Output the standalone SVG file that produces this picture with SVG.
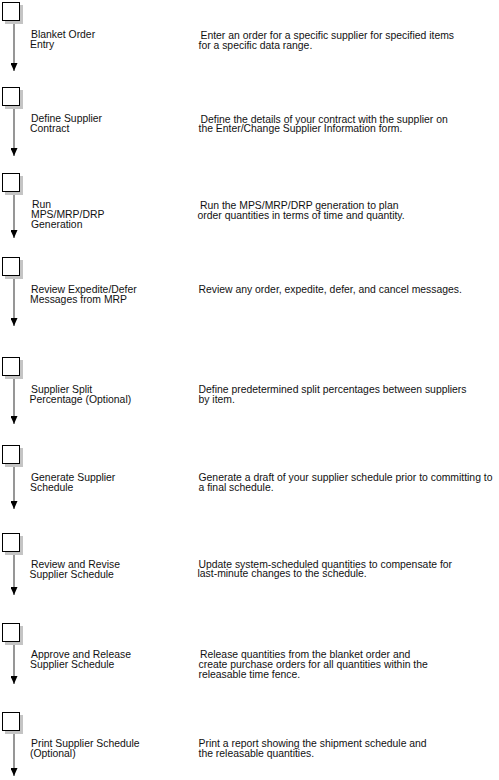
<svg xmlns="http://www.w3.org/2000/svg" width="499" height="780" viewBox="0 0 499 780">
<style>
.bg{fill:#ffffff}
.shadow{fill:#c4c4c4;stroke:none}
.box{fill:#ffffff;stroke:#000000;stroke-width:1}
.conn{stroke:#5f5f5f;stroke-width:1.3;fill:none}
text{font-family:"Liberation Sans",Arial,sans-serif;font-size:10.4px;fill:#111111}
</style>
<defs>
<marker id="arr" markerUnits="userSpaceOnUse" markerWidth="8" markerHeight="7" viewBox="0 0 8 7" refX="8" refY="3.5" orient="auto">
<path d="M0,0 L8,3.5 L0,7 z" fill="#000000"/>
</marker>
</defs>
<rect class="bg" x="0" y="0" width="499" height="780"/>
<g id="connectors">
<line class="conn" x1="14" y1="23" x2="14" y2="71" marker-end="url(#arr)"/>
<line class="conn" x1="14" y1="108" x2="14" y2="156" marker-end="url(#arr)"/>
<line class="conn" x1="14" y1="194" x2="14" y2="238" marker-end="url(#arr)"/>
<line class="conn" x1="14" y1="278" x2="14" y2="326" marker-end="url(#arr)"/>
<line class="conn" x1="14" y1="378" x2="14" y2="424" marker-end="url(#arr)"/>
<line class="conn" x1="14" y1="466" x2="14" y2="509" marker-end="url(#arr)"/>
<line class="conn" x1="14" y1="554" x2="14" y2="595" marker-end="url(#arr)"/>
<line class="conn" x1="14" y1="644" x2="14" y2="684" marker-end="url(#arr)"/>
<line class="conn" x1="14" y1="733" x2="14" y2="776" marker-end="url(#arr)"/>
</g>
<g id="node1">
<rect class="shadow" x="5" y="5" width="18" height="19"/>
<rect class="box" x="2.5" y="2.5" width="17" height="18"/>
<text x="31" y="37.5">Blanket Order</text>
<text x="30" y="47.5">Entry</text>
<text x="200.5" y="38.5">Enter an order for a specific supplier for specified items</text>
<text x="198.5" y="48.5">for a specific data range.</text>
</g>
<g id="node2">
<rect class="shadow" x="5" y="90" width="18" height="19"/>
<rect class="box" x="2.5" y="87.5" width="17" height="18"/>
<text x="31" y="121.5">Define Supplier</text>
<text x="30" y="131.5">Contract</text>
<text x="200.5" y="122.5">Define the details of your contract with the supplier on</text>
<text x="198.5" y="132">the Enter/Change Supplier Information form.</text>
</g>
<g id="node3">
<rect class="shadow" x="5" y="176" width="18" height="19"/>
<rect class="box" x="2.5" y="173.5" width="17" height="18"/>
<text x="32" y="207.5">Run</text>
<text x="31" y="217.5">MPS/MRP/DRP</text>
<text x="31" y="228">Generation</text>
<text x="200" y="208.5">Run the MPS/MRP/DRP generation to plan</text>
<text x="197.5" y="218.5">order quantities in terms of time and quantity.</text>
</g>
<g id="node4">
<rect class="shadow" x="5" y="260" width="18" height="19"/>
<rect class="box" x="2.5" y="257.5" width="17" height="18"/>
<text x="31" y="293">Review Expedite/Defer</text>
<text x="30" y="302.5">Messages from MRP</text>
<text x="198.5" y="293">Review any order, expedite, defer, and cancel messages.</text>
</g>
<g id="node5">
<rect class="shadow" x="5" y="360" width="18" height="19"/>
<rect class="box" x="2.5" y="357.5" width="17" height="18"/>
<text x="31" y="392.5">Supplier Split</text>
<text x="29.5" y="403">Percentage (Optional)</text>
<text x="198.5" y="392.5">Define predetermined split percentages between suppliers</text>
<text x="198.5" y="403">by item.</text>
</g>
<g id="node6">
<rect class="shadow" x="5" y="448" width="18" height="19"/>
<rect class="box" x="2.5" y="445.5" width="17" height="18"/>
<text x="31" y="480.5">Generate Supplier</text>
<text x="30" y="491">Schedule</text>
<text x="198.5" y="480.5">Generate a draft of your supplier schedule prior to committing to</text>
<text x="198.5" y="490.5">a final schedule.</text>
</g>
<g id="node7">
<rect class="shadow" x="5" y="536" width="18" height="19"/>
<rect class="box" x="2.5" y="533.5" width="17" height="18"/>
<text x="31" y="567.5">Review and Revise</text>
<text x="29.5" y="578">Supplier Schedule</text>
<text x="198.5" y="567.5">Update system-scheduled quantities to compensate for</text>
<text x="197.5" y="577">last-minute changes to the schedule.</text>
</g>
<g id="node8">
<rect class="shadow" x="5" y="626" width="18" height="19"/>
<rect class="box" x="2.5" y="623.5" width="17" height="18"/>
<text x="31" y="657.5">Approve and Release</text>
<text x="30" y="668">Supplier Schedule</text>
<text x="200" y="658">Release quantities from the blanket order and</text>
<text x="198.5" y="667.5">create purchase orders for all quantities within the</text>
<text x="198.5" y="677.5">releasable time fence.</text>
</g>
<g id="node9">
<rect class="shadow" x="5" y="715" width="18" height="19"/>
<rect class="box" x="2.5" y="712.5" width="17" height="18"/>
<text x="31" y="746.5">Print Supplier Schedule</text>
<text x="30" y="756.5">(Optional)</text>
<text x="198.5" y="746.5">Print a report showing the shipment schedule and</text>
<text x="198.5" y="756.5">the releasable quantities.</text>
</g>
</svg>
